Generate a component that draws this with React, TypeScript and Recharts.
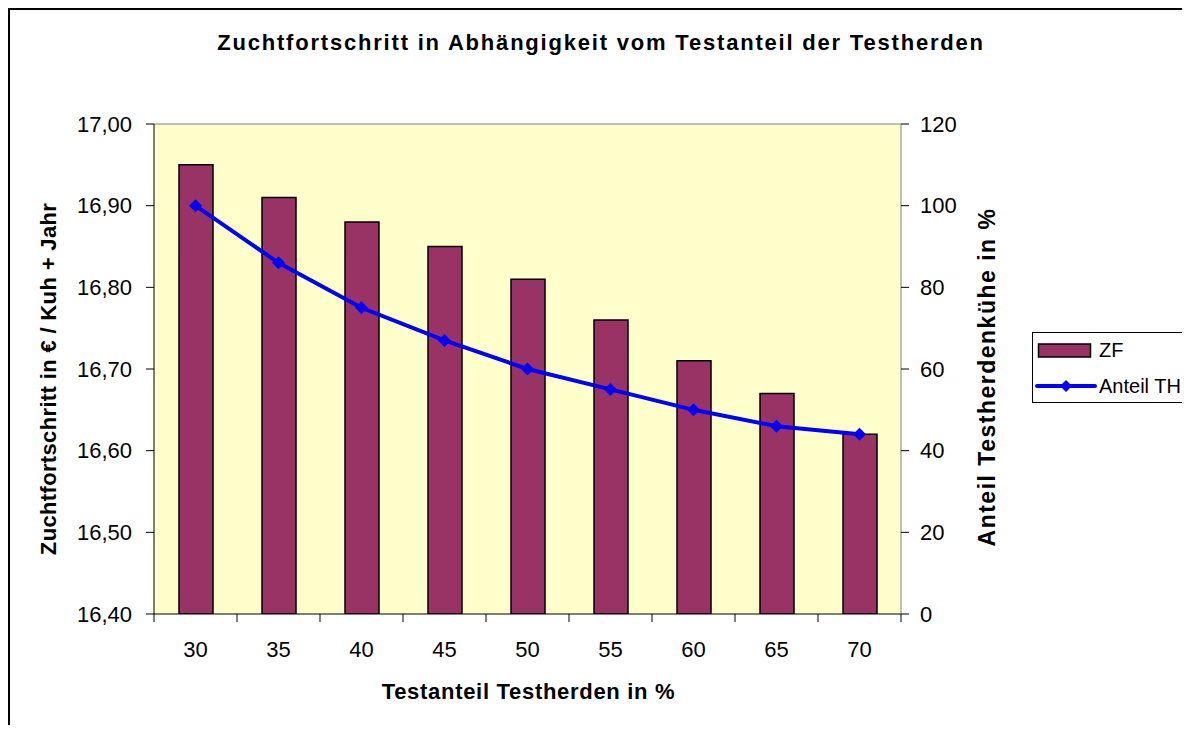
import { ComposedChart, Bar, Line, XAxis, YAxis, CartesianGrid, Legend, Label } from 'recharts'

const FONT = '"Liberation Sans", Arial, sans-serif'

// Testanteil der Testherden (x) und Werte
const categories = ['30', '35', '40', '45', '50', '55', '60', '65', '70']
const zfValues = [16.95, 16.91, 16.88, 16.85, 16.81, 16.76, 16.71, 16.67, 16.62]
const anteilTH = [100, 86, 75, 67, 60, 55, 50, 46, 44]
const leftTicks = [16.4, 16.5, 16.6, 16.7, 16.8, 16.9, 17.0]
const rightTicks = [0, 20, 40, 60, 80, 100, 120]

const data = categories.map((c, i) => ({
  testanteil: c,
  ZF: zfValues[i],
  'Anteil TH': anteilTH[i]
}))

const PLOT_W = 747
const BAND = PLOT_W / categories.length

const fmtLeft = (v: number) => v.toFixed(2).replace('.', ',')

function XTick(props: any) {
  const { x, y, payload, index } = props
  const half = BAND / 2
  return (
    <g>
      <line x1={x - half} x2={x - half} y1={y} y2={y + 8} stroke="#000" />
      {index === categories.length - 1 && (
        <line x1={x + half} x2={x + half} y1={y} y2={y + 8} stroke="#000" />
      )}
      <text x={x} y={y + 43} textAnchor="middle" fontSize={22} fill="#000" fontFamily={FONT}>
        {payload.value}
      </text>
    </g>
  )
}

function Diamond(props: any) {
  const { cx, cy } = props
  if (cx == null || cy == null) return null
  const r = 6.5
  return (
    <polygon
      points={`${cx},${cy - r} ${cx + r},${cy} ${cx},${cy + r} ${cx - r},${cy}`}
      fill="#0000FF"
    />
  )
}

function LegendBox(props: any) {
  // bars first, like the original legend
  const items = [...(props.payload || [])].sort((a: any, b: any) =>
    (a.type === 'rect' ? 0 : 1) - (b.type === 'rect' ? 0 : 1))
  return (
    <svg width={155} height={71} style={{ display: 'block' }}>
      <rect x={0.5} y={0.5} width={154} height={70} fill="#fff" stroke="#000" />
      {items.map((it: any, i: number) => {
        const cy = 18 + i * 36
        return (
          <g key={it.value}>
            {it.type === 'rect' ? (
              <rect x={6.5} y={cy - 6} width={52} height={13} fill="#993366" stroke="#000" strokeWidth={1.5} />
            ) : (
              <g>
                <line x1={5} x2={63} y1={cy} y2={cy} stroke="#0000FF" strokeWidth={4} strokeLinecap="round" />
                <polygon points={`34,${cy - 6} 40,${cy} 34,${cy + 6} 28,${cy}`} fill="#0000FF" />
              </g>
            )}
            <text x={67} y={cy} dominantBaseline="central" fontSize={20} fontFamily={FONT} fill="#000">
              {it.value}
            </text>
          </g>
        )
      })}
    </svg>
  )
}

const leftLabel = (props: any) => {
  const { x, y, height } = props.viewBox
  const cx = x + 38.5
  const cy = y + height / 2 + 10
  return (
    <text x={cx} y={cy} transform={`rotate(-90, ${cx}, ${cy})`} textAnchor="middle"
      dominantBaseline="central" fontSize={22} fontWeight="bold" fontFamily={FONT} fill="#000"
      style={{ letterSpacing: 0.35 }}>
      Zuchtfortschritt in € / Kuh + Jahr
    </text>
  )
}

const rightLabel = (props: any) => {
  const { x, y, height } = props.viewBox
  const cx = x + 86
  const cy = y + height / 2 + 8
  return (
    <text x={cx} y={cy} transform={`rotate(-90, ${cx}, ${cy})`} textAnchor="middle"
      dominantBaseline="central" fontSize={23} fontWeight="bold" fontFamily={FONT} fill="#000"
      style={{ letterSpacing: 1.5 }}>
      Anteil Testherdenkühe in %
    </text>
  )
}

const bottomLabel = (props: any) => {
  const { x, y, width } = props.viewBox
  return (
    <text x={x + width / 2 + 1} y={y + 85} textAnchor="middle" fontSize={22} fontWeight="bold"
      fontFamily={FONT} fill="#000" style={{ letterSpacing: 0.7 }}>
      Testanteil Testherden in %
    </text>
  )
}

export default function App() {
  return (
    <div
      style={{
        position: 'relative',
        width: 1180,
        height: 717,
        boxSizing: 'border-box',
        borderTop: '2px solid #000',
        borderLeft: '2px solid #000',
        overflow: 'hidden',
        background: '#fff',
        fontFamily: FONT
      }}
    >
      <div
        style={{
          position: 'absolute',
          top: 21,
          left: 4,
          right: 0,
          textAlign: 'center',
          fontSize: 22,
          lineHeight: '24px',
          fontWeight: 'bold',
          color: '#000',
          letterSpacing: 1.8
        }}
      >
        Zuchtfortschritt in Abhängigkeit vom Testanteil der Testherden
      </div>
      <ComposedChart
        width={1178}
        height={715}
        data={data}
        margin={{ top: 114, right: 0, bottom: 51, left: 0 }}
      >
        <CartesianGrid
          yAxisId="left"
          fill="#FFFFCC"
          fillOpacity={1}
          vertical={false}
          horizontalValues={[17]}
          stroke="#808080"
        />
        <XAxis
          dataKey="testanteil"
          height={60}
          interval={0}
          tickSize={0}
          tickMargin={0}
          tickLine={false}
          axisLine={{ stroke: '#000' }}
          tick={<XTick />}
        >
          <Label content={bottomLabel} />
        </XAxis>
        <YAxis
          yAxisId="left"
          width={144}
          domain={[16.4, 17.0]}
          ticks={leftTicks}
          tickFormatter={fmtLeft}
          tickSize={8}
          tickMargin={14}
          axisLine={{ stroke: '#000' }}
          tickLine={{ stroke: '#000' }}
          tick={{ fontSize: 22, fill: '#000', fontFamily: FONT }}
          allowDataOverflow
        >
          <Label content={leftLabel} />
        </YAxis>
        <YAxis
          yAxisId="right"
          orientation="right"
          width={287}
          domain={[0, 120]}
          ticks={rightTicks}
          tickSize={8}
          tickMargin={11}
          axisLine={{ stroke: '#808080' }}
          tickLine={{ stroke: '#000' }}
          tick={{ fontSize: 22, fill: '#000', fontFamily: FONT, textAnchor: 'start' }}
        >
          <Label content={rightLabel} />
        </YAxis>
        <Legend
          content={<LegendBox />}
          layout="horizontal"
          verticalAlign="middle"
          align="center"
          wrapperStyle={{ left: 1022, top: 322, width: 155, height: 71 }}
        />
        <Bar
          yAxisId="left"
          dataKey="ZF"
          name="ZF"
          legendType="rect"
          barSize={34}
          fill="#993366"
          stroke="#000"
          strokeWidth={1.5}
          isAnimationActive={false}
        />
        <Line
          yAxisId="right"
          dataKey="Anteil TH"
          name="Anteil TH"
          legendType="line"
          type="linear"
          stroke="#0000FF"
          strokeWidth={4}
          dot={<Diamond />}
          activeDot={false}
          isAnimationActive={false}
        />
      </ComposedChart>
    </div>
  )
}
